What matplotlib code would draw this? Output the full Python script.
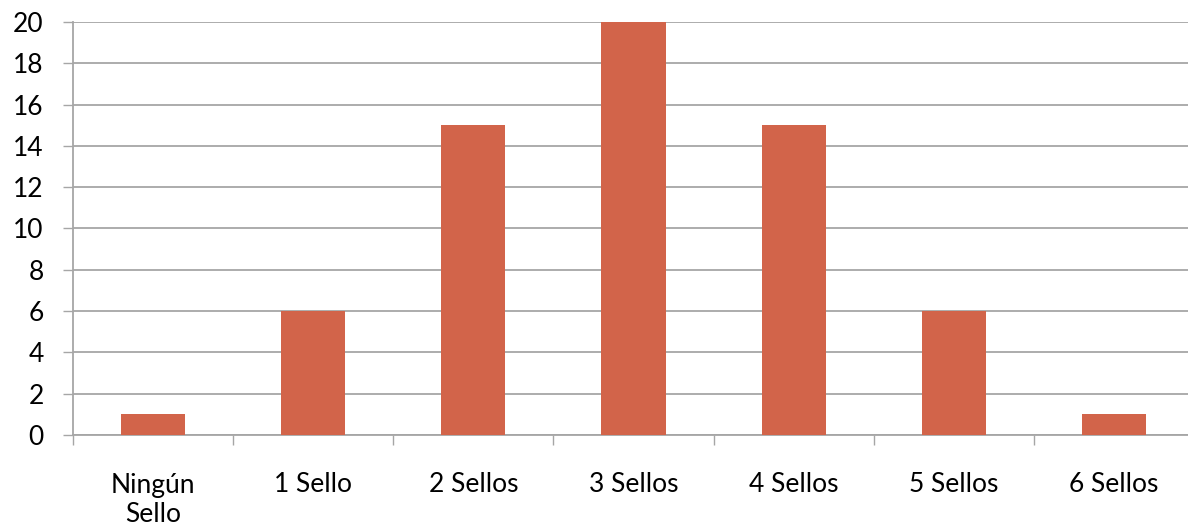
import numpy as np
import matplotlib.pyplot as plt

# Número de sellos (categorías) y frecuencias
categorias = ["Ningún\nSello", "1 Sello", "2 Sellos", "3 Sellos", "4 Sellos", "5 Sellos", "6 Sellos"]
valores = [1, 6, 15, 20, 15, 6, 1]
yticks = [0, 2, 4, 6, 8, 10, 12, 14, 16, 18, 20]

plt.rcParams['font.family'] = ['Lato', 'DejaVu Sans']

fig = plt.figure(figsize=(11.88, 5.31), dpi=100)
W, H = 1188, 531
ax = fig.add_axes([73 / W, 96 / H, (1194 - 73) / W, (435 - 22) / H])

x = np.arange(len(categorias))
ax.bar(x, valores, width=0.4, color='#D2644A', zorder=3)

ax.set_xlim(-0.5, len(categorias) - 0.5)
ax.set_ylim(0, 20)
ax.set_yticks(yticks)
ax.yaxis.grid(True, color='#A6A6A6', linewidth=1.3, zorder=0)
ax.tick_params(axis='y', length=7, width=1, color='#A6A6A6', labelsize=19, pad=14,
               labelcolor='black')

# etiquetas en el centro, marcas entre categorías
ax.set_xticks(x)
ax.set_xticklabels(categorias, fontsize=19, linespacing=1.25)
ax.tick_params(axis='x', which='major', length=0, pad=27, labelcolor='black')
ax.set_xticks(np.arange(len(categorias) + 1) - 0.5, minor=True)
ax.tick_params(axis='x', which='minor', length=7, width=1, color='#A6A6A6')

for s in ['top', 'right']:
    ax.spines[s].set_visible(False)
for s in ['left', 'bottom']:
    ax.spines[s].set_color('#A6A6A6')
    ax.spines[s].set_linewidth(1.3)

fig.savefig('out.png', dpi=100)
